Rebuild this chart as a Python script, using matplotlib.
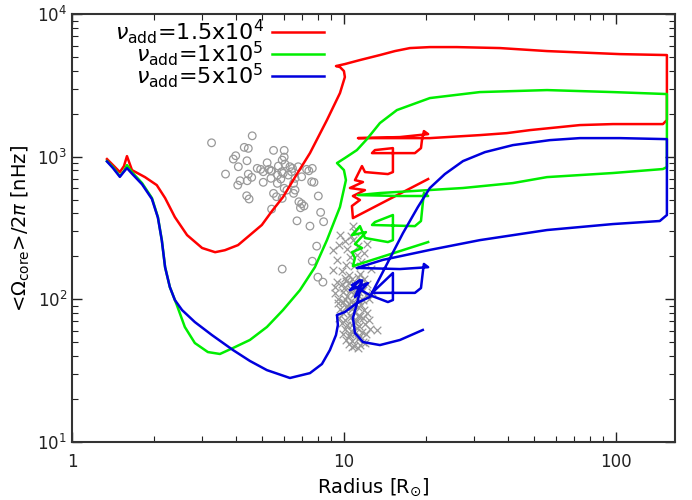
import matplotlib
matplotlib.use("Agg")
import matplotlib.pyplot as plt
from matplotlib.ticker import FixedLocator, FixedFormatter

# evolutionary tracks: radius [R_sun], core rotation [nHz]
red_r = [1.345, 1.415, 1.50, 1.553, 1.593, 1.662, 1.855, 2.05, 2.20, 2.39, 2.65, 3.01, 3.36, 3.65,
         4.08, 4.51, 4.99, 5.44, 5.97, 6.61, 7.50, 8.66, 9.67, 10.08, 10.0, 9.67, 9.35, 10.08,
         11.45, 13.56, 15.40, 17.48, 20.7, 26.0, 37.5, 55.8, 103.4, 154,
         154, 148.9, 97.5, 73.7, 48.3, 39.7, 31.6, 20.7, 11.26,
         16.07, 20.4, 19.68, 19.36, 19.2, 18.24, 12.68, 13.0, 15.14, 15.14, 14.51, 11.95, 11.65,
         10.98, 11.75, 10.52, 11.95, 10.79, 11.45, 10.70, 10.79, 20.4]
red_om = [962, 873, 780, 859, 1009, 805, 719, 632, 513, 377, 282, 229, 214, 221,
          240, 282, 332, 416, 521, 719, 1059, 1805, 2791, 3614, 3981, 4246, 4315, 4457,
          4755, 5155, 5497, 5770, 5862, 5862, 5770, 5497, 5234, 5155,
          1805, 1692, 1692, 1665, 1535, 1462, 1416, 1349, 1349,
          1372, 1439, 1511, 1306, 1148, 1059, 1059, 1112, 1148, 780, 755, 780, 859,
          685, 664, 603, 583, 530, 497, 451, 371, 697]

green_r = [1.345, 1.415, 1.50, 1.553, 1.593, 1.662, 1.81, 1.968, 2.07, 2.14, 2.20, 2.29, 2.43,
           2.60, 2.83, 3.16, 3.50, 3.91, 4.51, 5.21, 5.97, 6.89, 7.82, 8.66, 9.67, 10.17, 10.0,
           9.43, 10.08, 11.16, 12.15, 13.56, 15.66, 20.7, 31.6, 55.8, 97.5, 154,
           154, 148.9, 97.5, 55.8, 41.8, 27.4, 13.56, 11.26,
           16.07, 20.4, 19.68, 19.5, 19.2, 18.24, 12.68, 13.0, 15.14, 15.14, 14.51, 11.95, 11.45,
           10.70, 12.05, 10.98, 11.65, 10.70, 10.98, 10.79, 20.4]
green_om = [931, 846, 731, 793, 873, 780, 653, 513, 377, 260, 168, 122, 91.2,
            64.0, 49.4, 42.7, 41.4, 45.6, 51.9, 64.0, 84.1, 116, 168, 260, 444, 685, 805,
            902, 978, 1112, 1327, 1720, 2121, 2575, 2836, 2929, 2836, 2747,
            846, 819, 768, 719, 653, 603, 556, 538,
            530, 530, 556, 473, 354, 326, 332, 348, 390, 260, 252, 269, 326,
            282, 296, 244, 229, 214, 195, 171, 252]

blue_r = [1.345, 1.415, 1.50, 1.553, 1.593, 1.662, 1.81, 1.968, 2.07, 2.14, 2.20, 2.29, 2.39,
          2.54, 2.83, 3.27, 3.91, 4.51, 5.21, 6.33, 7.50, 8.30, 8.88, 9.35, 9.50, 9.43, 10.08,
          11.16, 12.46, 14.15, 16.48, 18.71, 20.7, 23.5, 27.4, 33.0, 41.8, 57.2, 73.7, 103.4, 154,
          154, 145, 97.5, 55.8, 31.6, 20.7, 13.91, 11.16,
          16.07, 20.4, 19.68, 19.5, 19.2, 18.24, 12.68, 13.0, 15.14, 15.14,
          14.51, 12.46, 10.70, 11.45, 10.52, 12.25, 10.98, 11.65, 11.26, 10.79, 10.98, 11.75,
          13.56, 16.07, 19.5]
blue_om = [925, 832, 722, 785, 832, 760, 640, 505, 374, 258, 168, 122, 98.9,
           84.1, 69.3, 56.2, 44.1, 37.0, 31.9, 28.1, 30.4, 35.2, 44.1, 56.2, 66.1, 77.6, 81.5,
           94.2, 104, 166, 291, 444, 603, 755, 931, 1076, 1205, 1306, 1349, 1349, 1327,
           390, 354, 337, 306, 260, 222, 189, 166,
           163, 168, 177, 155, 120, 111, 111, 116, 153, 98.9,
           95.7, 107, 126, 136, 116, 130, 104, 136, 98.9, 74, 58, 50.2,
           47.8, 51.9, 61]

# observed stars (grey circles)
circ_r = [3.26, 4.60, 4.30, 4.45, 5.51, 6.03, 4.00, 3.92, 4.40, 4.09, 3.67, 4.80, 4.94, 5.22,
          5.30, 5.42, 5.74, 5.93, 6.03, 6.07, 6.33, 6.47, 6.79, 7.29, 7.43, 7.65, 4.45, 4.58,
          4.15, 4.07, 4.41, 5.05, 5.39, 5.69, 5.86, 5.98, 6.24, 6.42, 6.61, 6.99, 5.70, 6.53,
          6.17, 6.03, 6.61, 6.53, 7.61, 7.76, 8.05, 5.51, 5.65, 5.93, 4.39, 4.48, 6.83, 6.99,
          6.92, 7.13, 5.42, 8.21, 6.72, 7.50, 8.42, 7.94, 7.65, 5.93, 5.05, 5.39, 5.91, 8.02, 8.37]
circ_om = [1251, 1400, 1162, 1143, 1107, 1107, 1015, 962, 936, 850, 755, 828, 815, 906,
           815, 796, 859, 946, 993, 888, 850, 828, 850, 815, 796, 828, 755, 716,
           678, 632, 678, 661, 705, 650, 697, 764, 743, 784, 705, 723, 743, 650,
           583, 600, 583, 553, 667, 661, 530, 553, 524, 510, 532, 505, 483, 468,
           438, 451, 429, 407, 355, 326, 350, 236, 185, 163, 784, 796, 784, 143, 132]

# observed stars (grey crosses)
cross_r = [10.8, 11.0, 9.7, 10.1, 10.8, 12.2, 11.3, 9.1, 10.3, 11.9, 10.5, 9.4, 11.6, 10.9, 9.1,
           9.8, 12.6, 10.2, 11.2, 9.6, 10.6, 11.5, 10.4,
           10.1, 10.7, 11.3, 11.9, 9.4, 9.8, 10.4, 11.0, 11.6, 12.2, 10.0, 10.6, 11.2, 11.8, 12.7,
           9.3, 9.9, 10.3, 10.9, 11.4, 12.1, 10.1, 10.6, 11.2, 11.8, 12.4, 9.5, 9.9, 10.4, 11.0,
           11.6, 10.2, 10.7, 11.3, 11.9, 9.7, 9.9, 10.5, 11.0, 11.5, 12.2, 9.6, 10.1, 10.6, 11.2,
           11.8, 9.8, 10.3, 10.9, 11.4, 12.0, 10.1, 10.6, 11.2, 11.7, 13.2, 9.9, 10.4, 11.0, 11.5,
           12.1, 10.2, 10.7, 11.3, 11.8, 10.4, 10.9, 11.5, 12.0, 10.7, 11.3, 10.3, 10.8, 11.4,
           10.5, 11.6, 10.2, 11.1, 10.7, 11.3, 10.5, 12.4, 12.5, 9.5, 9.3]
cross_om = [326, 296, 282, 256, 262, 244, 236, 222, 225, 211, 198, 189, 183, 170, 160,
            158, 162, 175, 205, 240, 280, 150, 148,
            141, 138, 143, 139, 132, 128, 131, 126, 133, 128, 120, 118, 122, 117, 112,
            110, 112, 106, 109, 113, 108, 101, 98, 103, 99, 101, 94, 96, 92, 95,
            91, 88, 85, 88, 84, 86, 80, 78, 81, 77, 80, 74, 72, 75, 71,
            74, 68, 66, 69, 65, 67, 62, 60, 63, 59, 61, 57, 55, 58, 55,
            57, 52, 51, 53, 50, 48.5, 47, 48, 49.5, 46, 45.5, 90, 92, 97,
            115, 124, 135, 113, 66, 76, 57, 72, 62, 100, 122]

labels = [r"$\nu_{\rm add}$=1.5x10$^4$", r"$\nu_{\rm add}$=1x10$^5$", r"$\nu_{\rm add}$=5x10$^5$"]

plt.rcParams['font.family'] = ['DejaVu Sans']
plt.rcParams['mathtext.fontset'] = 'dejavusans'

fig = plt.figure(figsize=(6.92, 5.0), dpi=100)
ax = fig.add_axes([0.104, 0.116, 0.8715, 0.856])

ax.scatter(circ_r, circ_om, s=30, facecolors='none', edgecolors='#999999', linewidths=0.9, zorder=1)
ax.scatter(cross_r, cross_om, s=30, marker='x', color='#999999', linewidths=0.9, zorder=1)

ax.plot(red_r, red_om, color='#ff0000', lw=1.8, label=labels[0], zorder=3)
ax.plot(green_r, green_om, color='#00ee00', lw=1.8, label=labels[1], zorder=3)
ax.plot(blue_r, blue_om, color='#0000dd', lw=1.8, label=labels[2], zorder=3)

ax.set_xscale('log')
ax.set_yscale('log')
ax.set_xlim(1, 165)
ax.set_ylim(10, 1e4)

ax.xaxis.set_major_locator(FixedLocator([1, 10, 100]))
ax.xaxis.set_major_formatter(FixedFormatter(['1', '10', '100']))
ax.tick_params(which='both', direction='in', top=True, right=True, labelsize=12, colors='#222222')
ax.tick_params(which='major', length=7, width=1)
ax.tick_params(which='minor', length=4, width=0.8)
ax.tick_params(axis='x', pad=8)
for s in ax.spines.values():
    s.set_color('#333333')
    s.set_linewidth(1.5)

ax.set_xlabel(r"Radius [R$_{\odot}$]", fontsize=14)
ax.set_ylabel(r"<$\Omega_{\rm core}$>/2$\pi$ [nHz]", fontsize=14)

ax.legend(loc='upper right', frameon=False, markerfirst=False, fontsize=16,
          handlelength=2.3, handletextpad=0.4, labelspacing=-0.3,
          borderaxespad=0.0, bbox_to_anchor=(0.432, 1.014))

fig.savefig('out.png', dpi=100)
